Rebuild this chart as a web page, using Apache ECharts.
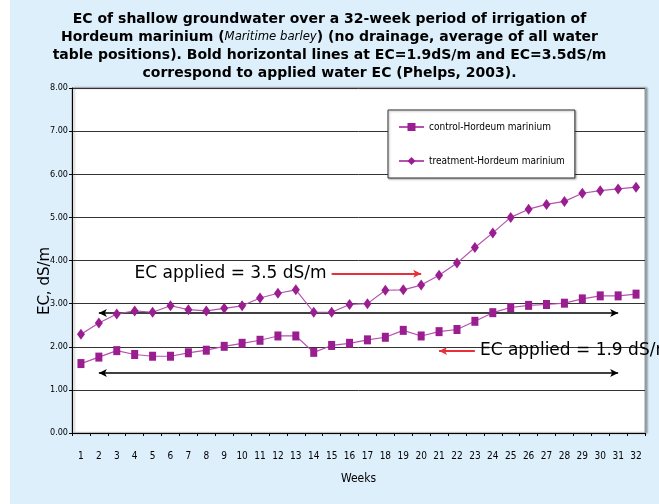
<!DOCTYPE html>
<html>
<head>
<meta charset="utf-8">
<script src="https://cdn.jsdelivr.net/npm/echarts@6/dist/echarts.min.js"></script>
<style>
html,body{margin:0;padding:0;background:#fff;}
#chart{width:659px;height:504px;background:linear-gradient(to right,#ffffff 10px,#DDEFFB 10px);}
</style>
</head>
<body>
<div id="chart"></div>
<script>
// ---- data ----
const weeks = ['1','2','3','4','5','6','7','8','9','10','11','12','13','14','15','16','17','18','19','20','21','22','23','24','25','26','27','28','29','30','31','32'];
const controlEC = [1.61,1.76,1.91,1.82,1.78,1.78,1.86,1.92,2.01,2.08,2.15,2.25,2.25,1.87,2.03,2.08,2.16,2.22,2.38,2.25,2.35,2.40,2.59,2.79,2.91,2.96,2.98,3.01,3.11,3.18,3.18,3.22];
const treatmentEC = [2.29,2.55,2.76,2.83,2.80,2.95,2.86,2.83,2.89,2.95,3.13,3.24,3.32,2.80,2.80,2.98,3.00,3.31,3.32,3.43,3.66,3.94,4.30,4.64,5.00,5.19,5.30,5.37,5.56,5.62,5.66,5.70];
const seriesNames = ['control-Hordeum marinium','treatment-Hordeum marinium'];
const yTicks = [0,1,2,3,4,5,6,7,8];
// annotation lines (x in week-index units, y in dS/m)
const bandArrowX = [0.78, 29.88];
const bandArrowY = [2.78, 1.39];
const redArrowUpper = {x:[14.05, 19.29], y:3.69, text:'EC applied = 3.5 dS/m'};
const redArrowLower = {x:[21.85, 19.73], y:1.90, text:'EC applied = 1.9 dS/m'};

const narrow = "'Liberation Sans Narrow','DejaVu Sans Condensed',sans-serif";
const purple = '#9A1E8F';
const lineCol = '#B650B2';

const chart = echarts.init(document.getElementById('chart'), null, {renderer:'canvas'});
chart.setOption({
  animation:false,
  title:{
    left:'center', top:5,
    text:'EC of shallow groundwater over a 32-week period of irrigation of\nHordeum marinium ({i|Maritime barley}) (no drainage, average of all water\ntable positions). Bold horizontal lines at EC=1.9dS/m and EC=3.5dS/m\ncorrespond to applied water EC (Phelps, 2003).',
    textStyle:{
      fontFamily:'DejaVu Sans', fontSize:14, fontWeight:'bold', color:'#000', lineHeight:18, align:'center',
      rich:{ i:{fontFamily:narrow, fontStyle:'italic', fontWeight:'normal', fontSize:13, color:'#000', lineHeight:18} }
    }
  },
  grid:{left:72, right:14, top:88, bottom:71, show:true, backgroundColor:'#fff', borderColor:'#999', borderWidth:1,
        shadowColor:'rgba(0,0,0,0.35)', shadowBlur:2, shadowOffsetX:2, shadowOffsetY:0},
  legend:{
    left:388, top:110, orient:'vertical',
    padding:[12,10,12,10], itemGap:24, itemWidth:25, itemHeight:10,
    backgroundColor:'#fff', borderColor:'#333', borderWidth:1,
    shadowColor:'rgba(0,0,0,0.3)', shadowBlur:2, shadowOffsetX:1, shadowOffsetY:1,
    textStyle:{fontFamily:narrow, fontSize:10, color:'#000'},
    data:seriesNames
  },
  xAxis:{
    type:'category', data:weeks, boundaryGap:true,
    name:'Weeks', nameLocation:'middle', nameGap:40,
    nameTextStyle:{fontFamily:narrow, fontSize:12, color:'#000'},
    axisLine:{lineStyle:{color:'#000', width:1}},
    axisTick:{show:true, length:3, lineStyle:{color:'#000'}},
    axisLabel:{interval:0, margin:18, fontFamily:narrow, fontSize:10, color:'#000'},
    splitLine:{show:false}
  },
  yAxis:{
    type:'value', min:0, max:8, interval:1,
    axisLine:{show:true, lineStyle:{color:'#000', width:1}},
    axisTick:{show:true, length:3, lineStyle:{color:'#000'}},
    axisLabel:{margin:4, fontFamily:narrow, fontSize:9, color:'#000', formatter:v=>v.toFixed(2)},
    splitLine:{show:true, lineStyle:{color:'#333', width:1}}
  },
  graphic:[{
    type:'text', x:45, y:281, rotation:Math.PI/2, z:10,
    style:{text:'EC, dS/m', font:'15px DejaVu Sans', fill:'#000', textAlign:'center', textVerticalAlign:'middle'}
  }],
  series:[
    {
      name:seriesNames[0], type:'line', data:controlEC,
      symbol:'rect', symbolSize:[7,9], showSymbol:true,
      itemStyle:{color:purple}, lineStyle:{color:lineCol, width:1.2},
      z:5,
      markLine:{
        silent:true, symbol:['arrow','arrow'], symbolSize:[6,8], precision:2,
        lineStyle:{color:'#000', width:1.6, type:'solid'},
        label:{show:false},
        data:[
          [{coord:[bandArrowX[0], bandArrowY[0]]},{coord:[bandArrowX[1], bandArrowY[0]]}],
          [{coord:[bandArrowX[0], bandArrowY[1]]},{coord:[bandArrowX[1], bandArrowY[1]]}]
        ]
      }
    },
    {
      name:seriesNames[1], type:'line', data:treatmentEC,
      symbol:'diamond', symbolSize:[8,11], showSymbol:true,
      itemStyle:{color:purple}, lineStyle:{color:lineCol, width:1.2},
      z:5,
      markLine:{
        silent:true, symbol:['none','arrow'], symbolSize:[6,8], precision:2,
        lineStyle:{color:'#E8303A', width:2, type:'solid'},
        label:{show:true, position:'start', distance:5, fontFamily:'DejaVu Sans', fontSize:17, color:'#000'},
        data:[
          [{coord:[redArrowUpper.x[0], redArrowUpper.y], label:{formatter:redArrowUpper.text}},{coord:[redArrowUpper.x[1], redArrowUpper.y]}],
          [{coord:[redArrowLower.x[0], redArrowLower.y], label:{formatter:redArrowLower.text}},{coord:[redArrowLower.x[1], redArrowLower.y]}]
        ]
      }
    }
  ]
});
</script>
</body>
</html>
